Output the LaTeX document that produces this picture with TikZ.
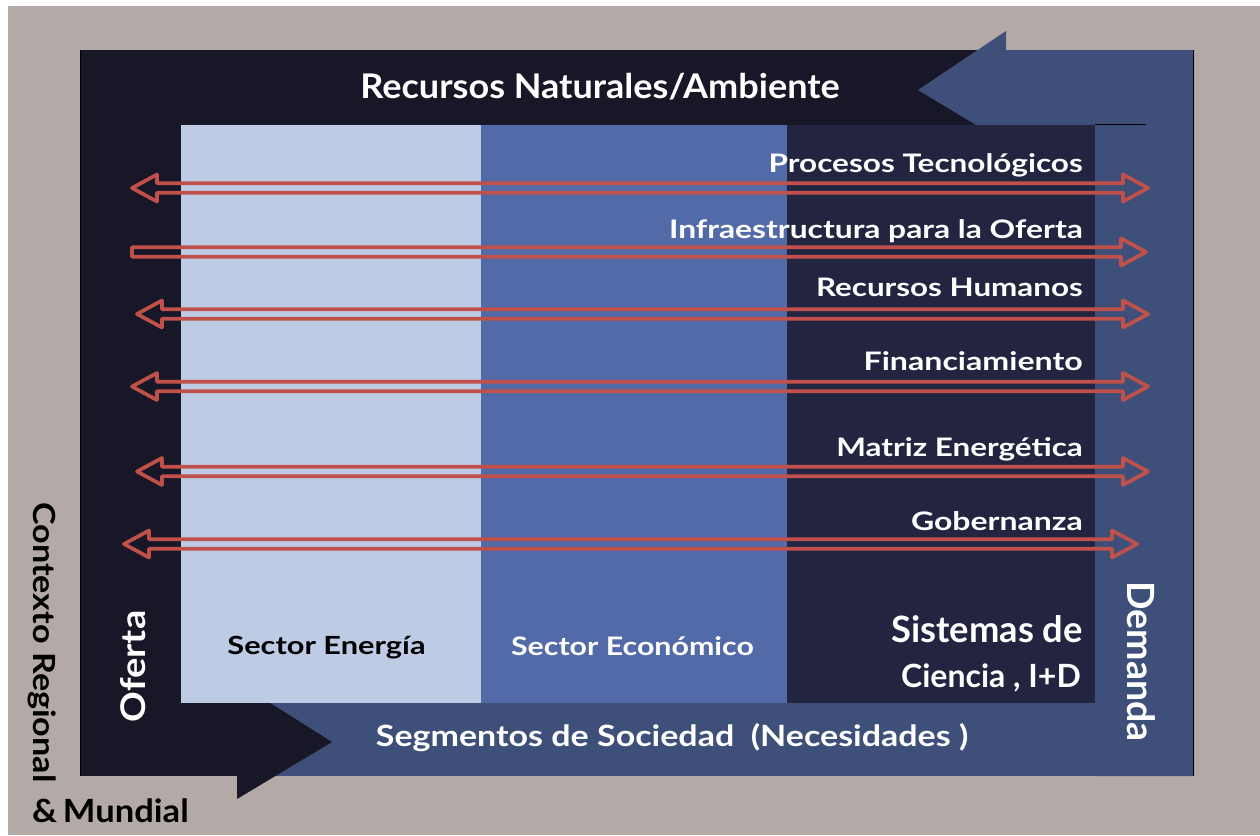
\documentclass[tikz,border=0pt]{standalone}
\usepackage{fontspec}
\setmainfont{Lato}
\definecolor{bggray}{HTML}{B3AAA7}
\definecolor{framedark}{HTML}{171727}
\definecolor{navycol}{HTML}{23243F}
\definecolor{medblue}{HTML}{526BA8}
\definecolor{lightblue}{HTML}{BDCBE5}
\definecolor{bandblue}{HTML}{3E5079}
\definecolor{arrred}{HTML}{C0504A}
\tikzset{
  redarrow/.style={draw=arrred, line width=3.7pt, line join=round},
  lbl/.style={anchor=base east, text=white, font=\bfseries\fontsize{25.5}{28}\selectfont, inner sep=0pt},
  txt/.style={anchor=base, inner sep=0pt},
}
\newcommand{\fs}[1]{\bfseries\fontsize{#1}{#1}\selectfont}
\newcommand{\sx}[2]{\scalebox{#1}[1]{#2}}
% double-headed outline arrow: #1 y, #2 left tip x, #3 right tip x
\newcommand{\dblarr}[3]{%
  \draw[redarrow] (#2,#1) -- ++(25,-13.5) -- ++(0,8.8) -- (#3-25,#1-4.7) -- ++(0,-8.8) -- (#3,#1) -- ++(-25,13.5) -- ++(0,-8.8) -- (#2+25,#1+4.7) -- ++(0,8.8) -- cycle;}
\begin{document}
\begin{tikzpicture}[x=1pt,y=-1pt]
\useasboundingbox (0,0) rectangle (1260,835);
\fill[white] (0,0) rectangle (1260,835);
\fill[bggray] (8,6) rectangle (1260,835);
% frame
\fill[framedark] (80,50) rectangle (1194,776);
% blue L band with arrow head at top
\fill[bandblue] (1194,50) -- (1006,50) -- (1006,31) -- (918,90) -- (1006,143) -- (1006,125) -- (1095,125) -- (1095,776) -- (1194,776) -- cycle;
\fill[bandblue] (270,703) rectangle (1194,776);
% dark arrow head bottom left
\fill[framedark] (180,703) rectangle (237,776);
\fill[framedark] (237,682) -- (332,742) -- (237,799) -- cycle;
\draw[black, line width=1pt] (80.5,50) -- (80.5,776);
\draw[black, line width=1pt] (1193.5,50) -- (1193.5,776);
\draw[black, line width=0.8pt] (1095,124.6) -- (1146,124.6);
% columns
\fill[lightblue] (181,125) rectangle (481,703);
\fill[medblue] (481,125) rectangle (787,703);
\fill[navycol] (787,125) rectangle (1095,703);
% red arrows
\dblarr{188}{132}{1148}
\draw[redarrow] (132,247.3) -- (1121,247.3) -- ++(0,-8.8) -- (1146,252) -- ++(-25,13.5) -- ++(0,-8.8) -- (132,256.7) -- cycle;
\dblarr{314}{137}{1148}
\dblarr{386.5}{132}{1148}
\dblarr{471.5}{137}{1148}
\dblarr{544}{124}{1137}
% labels
\node[lbl] (l1) at (1083,172.3) {\sx{1.236}{Procesos Tecnológicos}};
\node[lbl] (l2) at (1083,238.3) {\sx{1.246}{Infraestructura para la Oferta}};
\node[lbl] (l3) at (1083,296.7) {\sx{1.23}{Recursos Humanos}};
\node[lbl] (l4) at (1083,370) {\sx{1.26}{Financiamiento}};
\node[lbl] (l5) at (1083,456) {\sx{1.232}{Matriz Energética}};
\node[lbl] (l6) at (1083,530) {\sx{1.254}{Gobernanza}};
\node[txt, text=white, font=\fs{34}] (title) at (600,98.3) {\sx{1.06}{Recursos Naturales/Ambiente}};
\node[txt, font=\fs{25}] (se) at (326.5,654) {\sx{1.23}{Sector Energía}};
\node[txt, text=white, font=\fs{25.5}] (sec) at (632.5,655) {\sx{1.19}{Sector Económico}};
\node[txt, anchor=base east, text=white, font=\fs{36.3}] (sis) at (1083,642.7) {Sistemas de};
\node[txt, anchor=base east, text=white, font=\fs{32}] (cie) at (1081,687.5) {Ciencia , I+D};
\node[txt, text=white, font=\fs{29.3}] (seg) at (672,746.7) {\sx{1.16}{Segmentos de Sociedad\ \ (Necesidades )}};
\node[txt, rotate=90, text=white, font=\fs{34}] (of) at (145,666.5) {\sx{1.12}{Oferta}};
\node[txt, rotate=-90, text=white, font=\fs{37.5}] (dem) at (1127,661.5) {Demanda};
\node[txt, rotate=-90, font=\fs{30.5}] (ctx) at (33,642.5) {\sx{1.12}{Contexto Regional}};
\node[txt, font=\fs{32}] (mun) at (110.5,822) {\sx{1.08}{\&\,Mundial}};
\end{tikzpicture}
\end{document}
